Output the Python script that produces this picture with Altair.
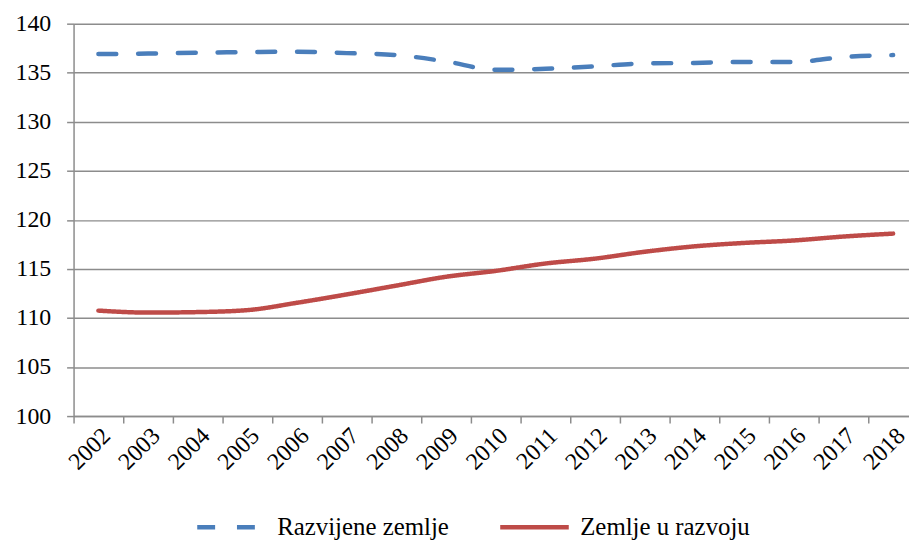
import altair as alt
import pandas as pd

years = list(range(2002, 2019))
razvijene = [136.9, 136.95, 137.05, 137.1, 137.15, 137.0, 136.8, 136.15, 135.3, 135.4, 135.65, 135.95, 136.0, 136.1, 136.1, 136.6, 136.8]
u_razvoju = [110.75, 110.55, 110.6, 110.8, 111.55, 112.4, 113.3, 114.2, 114.8, 115.55, 116.05, 116.75, 117.3, 117.65, 117.9, 118.3, 118.6]
series_names = ["Razvijene zemlje", "Zemlje u razvoju"]
y_ticks = [100, 105, 110, 115, 120, 125, 130, 135, 140]
x_boundaries = [y - 0.5 for y in years]

rows = []
for name, vals in zip(series_names, [razvijene, u_razvoju]):
    for yr, v in zip(years, vals):
        rows.append({"Godina": yr, "Vrijednost": v, "Serija": name})
df = pd.DataFrame(rows)

FONT = "Liberation Serif"
GRAY = "#8c8c8c"
W = 841
band = 50

chart = alt.Chart(df).mark_line(strokeWidth=4.5, strokeCap="round", interpolate="monotone").encode(
    x=alt.X("Godina:Q",
            scale=alt.Scale(domain=[2001.5, 2001.5 + W / band], nice=False, zero=False),
            axis=alt.Axis(values=x_boundaries, labelExpr="toString(round(datum.value + 0.5))",
                          labelOffset=33, labelAngle=-45, labelAlign="right", labelBaseline="middle",
                          labelPadding=9, labelFlush=False, labelOverlap=False, labelBound=False,
                          tickSize=7, tickColor=GRAY, tickWidth=1.5, domainColor=GRAY, domainWidth=1.5,
                          grid=False, title=None, labelFont=FONT, labelFontSize=24, labelColor="black")),
    y=alt.Y("Vrijednost:Q",
            scale=alt.Scale(domain=[100, 140], nice=False, zero=False),
            axis=alt.Axis(values=y_ticks, tickSize=7, tickColor=GRAY, tickWidth=1.5,
                          domainColor=GRAY, domainWidth=1.5, gridColor=GRAY, gridWidth=1.5,
                          labelPadding=16, title=None, labelFont=FONT, labelFontSize=24, labelColor="black")),
    color=alt.Color("Serija:N", scale=alt.Scale(domain=series_names, range=["#4A7EBB", "#BE4B48"]),
                    legend=alt.Legend(orient="none", legendX=122, legendY=470, direction="horizontal",
                                      title=None, symbolType="stroke", symbolSize=4761, symbolStrokeWidth=4.5,
                                      labelFont=FONT, labelFontSize=25, labelColor="black",
                                      columnPadding=42, labelOffset=9, labelLimit=400)),
    strokeDash=alt.StrokeDash("Serija:N", scale=alt.Scale(domain=series_names, range=[[18, 22], [1, 0]]),
                              legend=None),
).properties(
    width=W, height=395,
    autosize=alt.AutoSizeParams(type="none"),
    padding={"left": 66, "top": 14, "right": 0, "bottom": 128},
).configure_view(stroke=None)

chart.save("out.html", embed_options={"renderer": "svg", "actions": False})
